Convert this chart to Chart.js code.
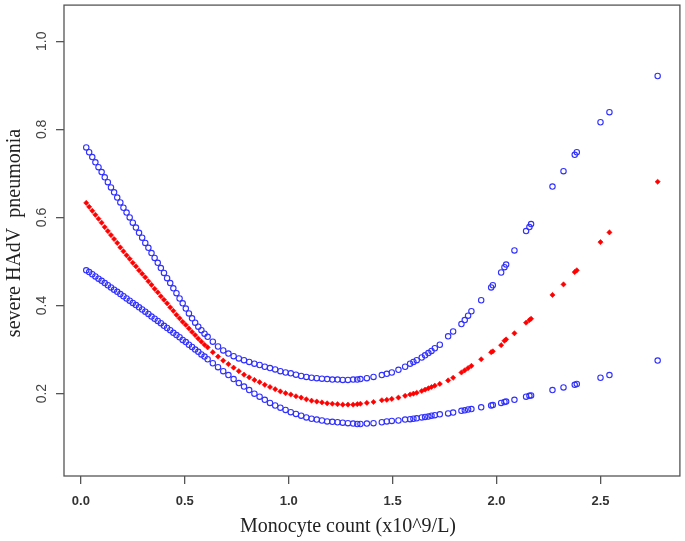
<!DOCTYPE html>
<html>
<head>
<meta charset="utf-8">
<script src="https://cdn.jsdelivr.net/npm/chart.js@4/dist/chart.umd.min.js"></script>
<style>
  html, body { margin: 0; padding: 0; background: #fff; }
  #c { display: block; }
</style>
</head>
<body>
<canvas id="c" width="685" height="541"></canvas>
<script>
// Monocyte count (x10^9/L) and fitted risk with its 95% band
const monocyte = [
  0.026, 0.04, 0.055, 0.07, 0.085, 0.10, 0.115, 0.13, 0.145, 0.16,
  0.175, 0.19, 0.205, 0.22, 0.235, 0.25, 0.265, 0.28, 0.295, 0.31,
  0.325, 0.34, 0.355, 0.37, 0.385, 0.40, 0.415, 0.43, 0.445, 0.46,
  0.475, 0.49, 0.505, 0.52, 0.535, 0.55, 0.565, 0.58, 0.595, 0.61,
  0.635, 0.66, 0.685, 0.71, 0.735, 0.76, 0.785, 0.81, 0.835, 0.86,
  0.885, 0.91, 0.935, 0.96, 0.985, 1.01, 1.035, 1.06, 1.085, 1.11,
  1.135, 1.16, 1.185, 1.21, 1.235, 1.26, 1.285, 1.31, 1.33,
  1.345, 1.376, 1.408, 1.448, 1.472, 1.496, 1.528, 1.56, 1.584, 1.60,
  1.616, 1.64, 1.656, 1.672, 1.687, 1.703, 1.727, 1.767, 1.791, 1.831,
  1.847, 1.863, 1.879, 1.926, 1.974, 1.982, 2.022, 2.038, 2.046, 2.086,
  2.142, 2.158, 2.166, 2.269, 2.322, 2.376, 2.386, 2.5, 2.543, 2.775
];
const upperCI = [
  0.759, 0.748, 0.737, 0.725, 0.714, 0.703, 0.691, 0.680, 0.668, 0.657,
  0.645, 0.634, 0.622, 0.611, 0.600, 0.588, 0.577, 0.565, 0.554, 0.542,
  0.531, 0.519, 0.508, 0.497, 0.485, 0.474, 0.462, 0.451, 0.439, 0.428,
  0.416, 0.405, 0.393, 0.382, 0.371, 0.361, 0.352, 0.344, 0.336, 0.329,
  0.318, 0.307, 0.298, 0.291, 0.285, 0.280, 0.276, 0.272, 0.268, 0.265,
  0.261, 0.258, 0.255, 0.251, 0.248, 0.246, 0.243, 0.240, 0.238, 0.236,
  0.235, 0.234, 0.233, 0.232, 0.232, 0.231, 0.231, 0.232, 0.232,
  0.233, 0.235, 0.238, 0.242, 0.245, 0.248, 0.254, 0.261, 0.268, 0.272,
  0.276, 0.282, 0.287, 0.292, 0.297, 0.303, 0.311, 0.330, 0.341, 0.358,
  0.367, 0.377, 0.387, 0.412, 0.441, 0.446, 0.475, 0.487, 0.493, 0.525,
  0.569, 0.578, 0.585, 0.670, 0.705, 0.742, 0.748, 0.816, 0.839, 0.921
];
const fitted = [
  0.633, 0.624, 0.615, 0.606, 0.597, 0.588, 0.578, 0.569, 0.560, 0.551,
  0.542, 0.532, 0.523, 0.514, 0.506, 0.497, 0.489, 0.480, 0.472, 0.464,
  0.455, 0.447, 0.438, 0.430, 0.421, 0.413, 0.405, 0.396, 0.388, 0.379,
  0.371, 0.363, 0.356, 0.348, 0.340, 0.333, 0.325, 0.318, 0.311, 0.305,
  0.294, 0.284, 0.275, 0.267, 0.259, 0.251, 0.243, 0.237, 0.231, 0.226,
  0.220, 0.215, 0.210, 0.205, 0.201, 0.198, 0.194, 0.191, 0.187, 0.184,
  0.182, 0.180, 0.178, 0.177, 0.176, 0.175, 0.175, 0.175, 0.176,
  0.177, 0.179, 0.181, 0.185, 0.186, 0.188, 0.191, 0.195, 0.198, 0.200,
  0.202, 0.206, 0.209, 0.212, 0.215, 0.218, 0.222, 0.230, 0.236, 0.248,
  0.253, 0.258, 0.263, 0.278, 0.294, 0.296, 0.310, 0.320, 0.323, 0.337,
  0.361, 0.367, 0.370, 0.424, 0.448, 0.476, 0.480, 0.544, 0.566, 0.681
];
const lowerCI = [
  0.480, 0.476, 0.471, 0.466, 0.461, 0.456, 0.451, 0.446, 0.441, 0.436,
  0.431, 0.426, 0.421, 0.416, 0.411, 0.406, 0.401, 0.396, 0.391, 0.386,
  0.381, 0.375, 0.370, 0.365, 0.360, 0.354, 0.349, 0.344, 0.338, 0.333,
  0.328, 0.322, 0.317, 0.311, 0.306, 0.300, 0.295, 0.289, 0.284, 0.278,
  0.269, 0.260, 0.251, 0.242, 0.233, 0.224, 0.216, 0.208, 0.200, 0.193,
  0.186, 0.179, 0.173, 0.168, 0.163, 0.158, 0.154, 0.150, 0.146, 0.143,
  0.141, 0.139, 0.137, 0.136, 0.135, 0.134, 0.133, 0.132, 0.131,
  0.131, 0.132, 0.133, 0.135, 0.137, 0.138, 0.139, 0.141, 0.142, 0.143,
  0.144, 0.146, 0.147, 0.148, 0.150, 0.151, 0.153, 0.155, 0.157, 0.161,
  0.162, 0.164, 0.165, 0.169, 0.173, 0.174, 0.179, 0.181, 0.182, 0.186,
  0.193, 0.195, 0.196, 0.208, 0.214, 0.220, 0.222, 0.236, 0.242, 0.275
];
const xTicks = [0, 0.5, 1.0, 1.5, 2.0, 2.5];
const yTicks = [0.2, 0.4, 0.6, 0.8, 1.0];
const xTitle = "Monocyte count (x10^9/L)";
const yTitle = "severe HAdV  pneumonia";

const pts = (ys) => monocyte.map((x, i) => ({ x, y: ys[i] }));
const AXIS = "#555";

// box around the plot, rotated y labels and the two axis titles
const frame = {
  id: "frame",
  afterDraw(chart) {
    const { ctx, chartArea: a, scales } = chart;
    ctx.save();
    ctx.strokeStyle = AXIS;
    ctx.lineWidth = 1.3;
    ctx.strokeRect(a.left, a.top, a.right - a.left, a.bottom - a.top);

    ctx.fillStyle = "#444";
    ctx.font = "14px 'Liberation Sans Narrow', 'Liberation Sans', sans-serif";
    ctx.textAlign = "center";
    ctx.textBaseline = "middle";
    for (const t of scales.y.ticks) {
      const py = scales.y.getPixelForValue(t.value);
      ctx.save();
      ctx.translate(42, py);
      ctx.rotate(-Math.PI / 2);
      ctx.fillText(t.value.toFixed(1), 0, 0);
      ctx.restore();
    }

    ctx.fillStyle = "#222";
    ctx.font = "20px 'Liberation Serif', 'DejaVu Serif', serif";
    ctx.textBaseline = "alphabetic";
    ctx.fillText(xTitle, 348, 532);
    ctx.save();
    ctx.translate(20, 233);
    ctx.rotate(-Math.PI / 2);
    ctx.fillText(yTitle, 0, 0);
    ctx.restore();
    ctx.restore();
  }
};

new Chart(document.getElementById("c"), {
  type: "scatter",
  data: {
    datasets: [
      { label: "upper", data: pts(upperCI), pointStyle: "circle", pointRadius: 2.7,
        borderColor: "#3030ff", backgroundColor: "rgba(255,255,255,0)", borderWidth: 1.1 },
      { label: "fit", data: pts(fitted), pointStyle: "rectRot", pointRadius: 2.6,
        borderColor: "#ff0000", backgroundColor: "#ff0000", borderWidth: 0.6 },
      { label: "lower", data: pts(lowerCI), pointStyle: "circle", pointRadius: 2.7,
        borderColor: "#3030ff", backgroundColor: "rgba(255,255,255,0)", borderWidth: 1.1 },
    ],
  },
  options: {
    responsive: false,
    animation: false,
    layout: { padding: { top: 1, right: 2, left: 0, bottom: 0 } },
    plugins: { legend: { display: false }, tooltip: { enabled: false } },
    scales: {
      x: {
        type: "linear", min: -0.081, max: 2.882,
        afterBuildTicks: (s) => { s.ticks = xTicks.map(v => ({ value: v })); },
        afterFit: (s) => { s.height = 65; },
        border: { display: false },
        grid: { drawOnChartArea: false, drawTicks: true, tickLength: 8, color: AXIS, lineWidth: 1.3 },
        ticks: { color: "#333", padding: 10, maxRotation: 0,
          font: { family: "'Liberation Sans Narrow', 'Liberation Sans', sans-serif", size: 13, weight: "bold" },
          callback: (v) => Number(v).toFixed(1) },
      },
      y: {
        type: "linear", min: 0.013, max: 1.082,
        afterBuildTicks: (s) => { s.ticks = yTicks.map(v => ({ value: v })); },
        afterFit: (s) => { s.width = 64; },
        border: { display: false },
        grid: { drawOnChartArea: false, drawTicks: true, tickLength: 8, color: AXIS, lineWidth: 1.3 },
        ticks: { display: false },
      },
    },
  },
  plugins: [frame],
});
</script>
</body>
</html>
